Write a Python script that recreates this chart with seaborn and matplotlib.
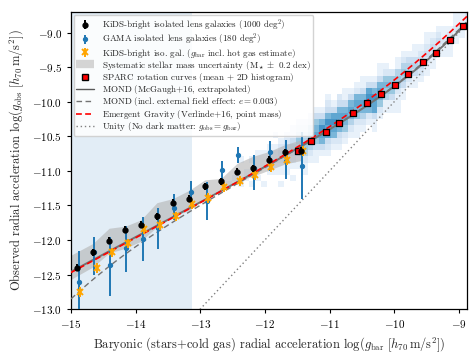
import numpy as np
import pandas as pd
import matplotlib
matplotlib.use("Agg")
import matplotlib.pyplot as plt
import seaborn as sns
from matplotlib.lines import Line2D

sns.set_style("ticks")
plt.rcParams.update({
    "font.family": "serif",
    "font.serif": ["cmr10", "DejaVu Serif"],
    "mathtext.fontset": "cm",
    "axes.formatter.use_mathtext": True,
    "axes.edgecolor": "black",
    "axes.linewidth": 0.9,
    "xtick.color": "black",
    "ytick.color": "black",
})

# KiDS-bright isolated lenses (log g_bar, log g_obs)
kids_x = [-14.90, -14.66, -14.41, -14.16, -13.92, -13.67, -13.42, -13.17,
          -12.93, -12.68, -12.43, -12.19, -11.94, -11.69, -11.44]
kids_y = [-12.40, -12.18, -12.01, -11.85, -11.78, -11.66, -11.46, -11.40,
          -11.22, -11.15, -11.01, -10.96, -10.84, -10.73, -10.71]
kids_err = [0.05] * 15

# KiDS-bright with hot gas included in g_bar
hot_x = [-14.86, -14.60, -14.36, -14.11, -13.87, -13.62, -13.38, -13.13,
         -12.88, -12.64, -12.39, -12.15, -11.90, -11.65, -11.41]
hot_y = [-12.75, -12.41, -12.18, -12.05, -11.84, -11.78, -11.66, -11.48,
         -11.39, -11.23, -11.15, -11.06, -10.94, -10.84, -10.71]
hot_err = [0.07] * 15

# GAMA isolated lenses with error bar ends
gama_x = [-14.88, -14.64, -14.39, -14.15, -13.89, -13.65, -13.40, -13.15,
          -12.90, -12.66, -12.41, -12.17, -11.92, -11.67, -11.43]
gama_y = [-12.61, -12.17, -12.36, -12.12, -11.99, -11.83, -11.53, -11.30,
          -11.43, -10.99, -10.77, -10.96, -10.73, -10.85, -10.93]
gama_lo = [-13.08, -12.50, -12.81, -12.46, -12.30, -12.13, -11.71, -11.52,
           -11.71, -11.13, -10.89, -11.28, -11.00, -11.12, -11.40]
gama_hi = [-12.16, -11.96, -11.96, -11.80, -11.67, -11.54, -11.34, -11.15,
           -11.16, -10.86, -10.65, -10.77, -10.57, -10.55, -10.44]

# Systematic stellar-mass band
band_x = [-15.00, -14.66, -14.41, -14.16, -13.92, -13.67, -13.42, -13.17,
          -12.93, -12.68, -12.43, -12.19, -11.94, -11.69, -11.44]
band_lo = [-12.57, -12.39, -12.19, -12.12, -12.02, -11.81, -11.66, -11.57,
           -11.40, -11.30, -11.15, -11.08, -10.99, -10.90, -10.85]
band_hi = [-12.22, -12.05, -11.83, -11.80, -11.71, -11.46, -11.40, -11.28,
           -11.13, -11.11, -10.89, -10.79, -10.72, -10.62, -10.55]

# SPARC rotation-curve means
sparc_x = [-11.49, -11.28, -11.06, -10.85, -10.64, -10.42, -10.20, -9.99,
           -9.78, -9.56, -9.35, -9.13, -8.93]
sparc_y = [-10.71, -10.57, -10.43, -10.31, -10.16, -10.02, -9.89, -9.75,
           -9.59, -9.43, -9.29, -9.11, -8.90]

# SPARC 2D histogram: one string per g_bar column, counts per g_obs bin
# (index 5 = bin holding the mean relation, lower index = lower g_obs)
hist_x0, hist_dx, hist_dy = -12.60, 0.09, 0.09
hist_cols = [
    "00000100000", "00000010000", "00001000100", "00000110000",
    "00010101000", "00001011100", "00100111000", "00001121100",
    "00011221010", "01011232100", "00112232100", "01012343110",
    "00113453210", "01124543210", "00124654210", "01135765310",
    "00136786310", "01237786321", "00126787310", "01236776320",
    "00125676311", "00124676310", "01125676210", "00124676311",
    "00126787310", "01137786310", "00125676311", "00114565210",
    "00113565200", "01112454110", "00113454210", "00012443100",
    "00011343110", "00012332100", "00011232110", "00011232100",
    "00001232100", "00001121100", "00011121000", "00001121100",
    "00001111000", "00000121000",
]

XMIN, XMAX, YMIN, YMAX = -15.0, -8.87, -13.0, -8.70
G_DAGGER = 1.2e-10
EFE_E = 0.003


def mond(lgb):
    gb = 10.0 ** lgb
    return np.log10(gb / (1.0 - np.exp(-np.sqrt(gb / G_DAGGER))))


def mond_efe(lgb, e=EFE_E):
    y = 10.0 ** lgb / G_DAGGER
    a = e * (1 + e / 2) / (1 + e)
    b = 1 + e
    nu = 0.5 - a / y + np.sqrt((0.5 - a / y) ** 2 + b / y)
    return lgb + np.log10(nu)


def emergent(lgb):
    gb = 10.0 ** lgb
    h0 = 70e3 / 3.0857e22
    return np.log10(gb + np.sqrt(2.998e8 * h0 * gb / 6.0))


fig = plt.figure(figsize=(4.7, 3.54), dpi=100)
ax = fig.add_axes([0.151, 0.127, 0.843, 0.839])

ax.axvspan(XMIN - 1, -13.12, color="#e2edf6", lw=0, zorder=0)

# 2D histogram on a fixed grid
nx = len(hist_cols)
xe = hist_x0 + hist_dx * np.arange(nx + 1)
y0 = -12.5
ny = int(np.ceil((YMAX + 0.5 - y0) / hist_dy))
ye = y0 + hist_dy * np.arange(ny + 1)
counts = np.full((ny, nx), np.nan)
for i, col in enumerate(hist_cols):
    xc = hist_x0 + hist_dx * (i + 0.5)
    centre = int(np.floor((mond(xc) - y0) / hist_dy))
    for k, ch in enumerate(col):
        j = centre + k - 5
        if 0 <= j < ny and ch != "0":
            counts[j, i] = int(ch)
ax.pcolormesh(xe, ye, np.ma.masked_invalid(counts), cmap="Blues",
              vmin=0, vmax=13, zorder=1, shading="flat")

ax.fill_between(band_x, band_lo, band_hi, color="0.70", alpha=0.6,
                lw=0, zorder=2)

xs = np.linspace(XMIN, XMAX, 500)
curves = pd.DataFrame({"x": xs, "mond": mond(xs), "efe": mond_efe(xs),
                       "eg": emergent(xs), "unity": xs})
sns.lineplot(data=curves, x="x", y="unity", ax=ax, color="0.5", lw=1.0,
             linestyle=(0, (1, 2)), zorder=3)
sns.lineplot(data=curves, x="x", y="efe", ax=ax, color="0.45", lw=1.0,
             linestyle=(0, (4, 2.5)), zorder=3)
sns.lineplot(data=curves, x="x", y="mond", ax=ax, color="0.45", lw=1.4,
             zorder=3)
sns.lineplot(data=curves, x="x", y="eg", ax=ax, color="red", lw=1.2,
             linestyle=(0, (3.5, 2)), zorder=4)

sparc = pd.DataFrame({"x": sparc_x, "y": sparc_y})
sns.scatterplot(data=sparc, x="x", y="y", ax=ax, marker="s", s=22,
                color="red", edgecolor="black", linewidth=0.9, zorder=5)

gy = np.array(gama_y)
gama_err = [gy - np.array(gama_lo), np.array(gama_hi) - gy]
e_gama = ax.errorbar(gama_x, gama_y, yerr=gama_err, fmt="o", ms=2.8,
                     color="#1f77b4", elinewidth=1.4, capsize=0, zorder=6)
e_hot = ax.errorbar(hot_x, hot_y, yerr=hot_err, fmt="x", ms=4.5, mew=1.4,
                    color="orange", elinewidth=1.4, capsize=0, zorder=7)
e_kids = ax.errorbar(kids_x, kids_y, yerr=kids_err, fmt="o", ms=3.5,
                     color="black", elinewidth=1.4, capsize=0, zorder=8)

ax.set_xlim(XMIN, XMAX)
ax.set_ylim(YMIN, YMAX)
ax.set_xticks(np.arange(-15, -8, 1))
ax.set_yticks(np.arange(-13, -8.9, 0.5))
ax.yaxis.set_major_formatter(matplotlib.ticker.FormatStrFormatter("$%.1f$"))
ax.xaxis.set_major_formatter(matplotlib.ticker.FormatStrFormatter("$%d$"))
ax.tick_params(labelsize=8, length=3, width=0.8)
for s in ax.spines.values():
    s.set_visible(True)

ax.set_xlabel(r"Baryonic (stars+cold gas) radial acceleration "
              r"$\log(g_{\rm bar}\ [h_{70}\,{\rm m/s^2}])$", fontsize=9)
ax.set_ylabel(r"Observed radial acceleration "
              r"$\log(g_{\rm obs}\ [h_{70}\,{\rm m/s^2}])$", fontsize=9)

handles = [
    e_kids, e_gama, e_hot,
    Line2D([], [], color="0.83", lw=6, solid_capstyle="butt"),
    Line2D([], [], marker="s", ls="none", ms=5, mfc="red", mec="black"),
    Line2D([], [], color="0.35", lw=1.0),
    Line2D([], [], color="0.45", lw=1.0, linestyle=(0, (4, 2.5))),
    Line2D([], [], color="red", lw=1.2, linestyle=(0, (3.5, 2))),
    Line2D([], [], color="0.5", lw=1.0, linestyle=(0, (1, 2))),
]
# every entry goes through mathtext so that all rows share one height
labels = [
    r"KiDS-bright isolated lens galaxies (1000 deg$^2$)",
    r"GAMA isolated lens galaxies (180 deg$^2$)",
    r"KiDS-bright iso. gal. ($g_{\rm bar}$ incl. hot gas estimate)",
    r"Systematic stellar mass uncertainty (M$_\star \pm$ 0.2 dex)",
    r"SPARC rotation curves (mean + 2D histogram)$^{}$",
    r"MOND (McGaugh+16, extrapolated)$^{}$",
    r"MOND (incl. external field effect: $e=0.003$)",
    r"Emergent Gravity (Verlinde+16, point mass)$^{}$",
    r"Unity (No dark matter: $g_{\rm obs}=g_{\rm bar}$)",
]
leg = ax.legend(handles, labels, loc="upper left", fontsize=6.5,
                frameon=True, fancybox=True, framealpha=0.85,
                edgecolor="0.8", borderaxespad=0.3, labelspacing=-0.08,
                borderpad=0.3, handlelength=2.0, handletextpad=0.8,
                handleheight=0.7)
leg.set_zorder(10)

fig.savefig("out.png", dpi=100)
